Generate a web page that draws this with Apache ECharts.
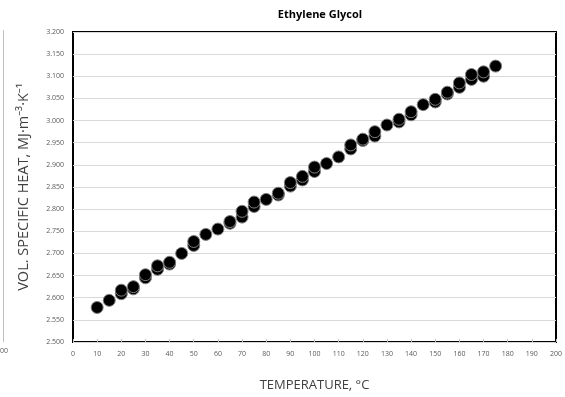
<!DOCTYPE html>
<html>
<head>
<meta charset="utf-8">
<script src="https://cdn.jsdelivr.net/npm/echarts@6/dist/echarts.min.js"></script>
<style>html,body{margin:0;padding:0;background:#fff}#c{width:565px;height:397px}</style>
</head>
<body>
<div id="c"></div>
<script>
var titleText = 'Ethylene Glycol';
var xName = 'TEMPERATURE, °C';
var yName = 'VOL. SPECIFIC HEAT, MJ·m⁻³·K⁻¹';
var xTicks = [0,10,20,30,40,50,60,70,80,90,100,110,120,130,140,150,160,170,180,190,200];
var yTicks = [2.5,2.55,2.6,2.65,2.7,2.75,2.8,2.85,2.9,2.95,3.0,3.05,3.1,3.15,3.2];

var temps1 = [10,15,20,25,30,35,40,45,50,55,60,65,70,75,80,85,90,95,100,105,110,115,120,125,130,135,140,145,150,155,160,165,170,175];
var heat1 = [2.578,2.594,2.609,2.620,2.645,2.664,2.676,2.700,2.718,2.743,2.755,2.768,2.782,2.806,2.822,2.832,2.852,2.866,2.885,2.903,2.918,2.936,2.955,2.965,2.990,2.997,3.013,3.036,3.042,3.060,3.075,3.093,3.100,3.123];
var temps2 = [20,25,30,35,40,50,65,70,75,85,90,95,100,115,120,125,135,140,150,155,160,165,170];
var heat2 = [2.617,2.625,2.652,2.672,2.680,2.727,2.772,2.795,2.816,2.836,2.860,2.874,2.895,2.945,2.958,2.975,3.003,3.020,3.048,3.064,3.085,3.104,3.110];

function pairs(xs, ys){ return xs.map(function(x,i){ return [x, ys[i]]; }); }

var chart = echarts.init(document.getElementById('c'), null, {renderer:'canvas'});
var font = '"Open Sans", "Noto Sans", sans-serif';
chart.setOption({
  animation: false,
  backgroundColor: '#fff',
  textStyle: {fontFamily: font},
  title: {
    text: titleText, left: 315, top: 4, textAlign: 'center',
    textStyle: {fontSize: 11, fontWeight: 'bold', color: '#000', fontFamily: font}
  },
  grid: {left: 73, right: 8, top: 32, bottom: 52, show: true, borderColor: '#000', borderWidth: 2, containLabel: false},
  xAxis: {
    type: 'value', min: 0, max: 200, interval: 10,
    name: xName, nameLocation: 'middle', nameGap: 37,
    nameTextStyle: {fontSize: 13, color: '#404040', fontFamily: font},
    axisLine: {show: false},
    axisTick: {show: true, inside: true, length: 3, lineStyle: {color: '#bfbfbf'}},
    axisLabel: {fontSize: 7, color: '#595959', margin: 8, formatter: function(v){ return String(v); }},
    splitLine: {show: false}
  },
  yAxis: {
    type: 'value', min: 2.5, max: 3.2, interval: 0.05,
    name: yName, nameLocation: 'middle', nameGap: 42, nameRotate: 90,
    nameTextStyle: {fontSize: 14.5, color: '#404040', fontFamily: font},
    axisLine: {show: false},
    axisTick: {show: false},
    axisLabel: {fontSize: 7, color: '#595959', margin: 9, formatter: function(v){ return v.toFixed(3); }},
    splitLine: {show: true, lineStyle: {color: '#d9d9d9', width: 1}}
  },
  graphic: [
    {type: 'line', shape: {x1: 3.5, y1: 30, x2: 3.5, y2: 342}, style: {stroke: '#bfbfbf', lineWidth: 1}},
    {type: 'text', left: 0, top: 347, style: {text: '00', fontSize: 7, fill: '#595959', fontFamily: font}}
  ],
  series: [
    {type: 'scatter', data: pairs(temps1, heat1), symbol: 'circle', symbolSize: 12,
     itemStyle: {color: '#000', opacity: 1, borderColor: '#808080', borderWidth: 1}},
    {type: 'scatter', data: pairs(temps2, heat2), symbol: 'circle', symbolSize: 12,
     itemStyle: {color: '#000', opacity: 1, borderColor: '#808080', borderWidth: 1}}
  ]
});
</script>
</body>
</html>
